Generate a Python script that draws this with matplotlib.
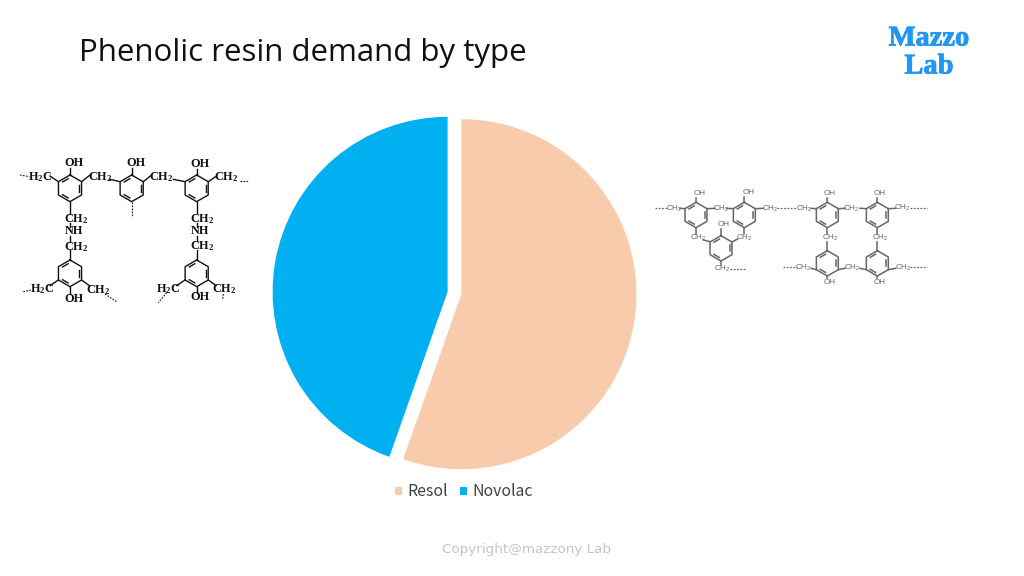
import numpy as np
import matplotlib
matplotlib.use("Agg")
import matplotlib.pyplot as plt
import matplotlib.patheffects as pe

plt.rcParams['mathtext.default'] = 'regular'

# --- data ---
types = ['Resol', 'Novolac']
demand = [55.4, 44.6]
colors = ['#F8CBAD', '#00B0F0']

title = 'Phenolic resin demand by type'
logo = ['Mazzo', 'Lab']
footer = 'Copyright@mazzony Lab'

# --- figure ---
fig = plt.figure(figsize=(10.24, 5.76), dpi=100)

# pie axes, 1 data unit = pie radius (175 px)
half = 175 * 1.25
ax = fig.add_axes([(454.5 - half) / 1024, (576 - 293 - half) / 576, 2 * half / 1024, 2 * half / 576])
wedges, _ = ax.pie(demand, colors=colors, explode=[0.04, 0.04], startangle=90,
                   counterclock=False, radius=1, labels=None)
ax.set_xlim(-1.25, 1.25)
ax.set_ylim(-1.25, 1.25)

fig.legend(wedges, types, loc='center', bbox_to_anchor=(464 / 1024, 1 - 492 / 576), ncol=2,
           frameon=False, handlelength=0.45, handleheight=0.45, handletextpad=0.3, columnspacing=0.8,
           prop={'family': 'Noto Sans CJK JP', 'size': 11.4}, labelcolor='#404040')

# overlay in pixel coordinates for the text and the molecule sketches
ov = fig.add_axes([0, 0, 1, 1], facecolor='none')
ov.set_xlim(0, 1024)
ov.set_ylim(576, 0)
ov.axis('off')

ov.text(79, 53, title, fontsize=22.5, family='Open Sans', color='#111111', va='center', ha='left')
stroke = [pe.withStroke(linewidth=0.6, foreground='#2196F3')]
ov.text(929, 39, logo[0], fontsize=20.5, family='Liberation Serif', weight='bold', color='#2196F3',
        ha='center', va='center', path_effects=stroke)
ov.text(929, 67, logo[1], fontsize=20.5, family='Liberation Serif', weight='bold', color='#2196F3',
        ha='center', va='center', path_effects=stroke)
ov.text(526, 550, footer, fontsize=9.7, family='DejaVu Sans', color='#C4C4C4', ha='center', va='center')


def hexagon(x0, y0, cx, cy, r, color, lw, inner):
    ang = np.radians(np.arange(90, 451, 60))
    px = x0 + (cx + r * np.cos(ang)) / 3
    py = y0 + (cy - r * np.sin(ang)) / 3
    ov.plot(px, py, color=color, lw=lw, solid_joinstyle='round')
    # double bonds
    for i in inner:
        a = (px[i] * 0.8 + px[i + 1] * 0.2, py[i] * 0.8 + py[i + 1] * 0.2)
        b = (px[i] * 0.2 + px[i + 1] * 0.8, py[i] * 0.2 + py[i + 1] * 0.8)
        mx, my = x0 + cx / 3, y0 + cy / 3
        ov.plot([a[0] + (mx - a[0]) * 0.2, b[0] + (mx - b[0]) * 0.2],
                [a[1] + (my - a[1]) * 0.2, b[1] + (my - b[1]) * 0.2], color=color, lw=lw)


def molecule(x0, y0, rings, r, bonds, dashes, labels, color, lw, fontsize, **font):
    for cx, cy in rings:
        hexagon(x0, y0, cx, cy, r, color, lw, [0, 2, 4])
    for x1, y1, x2, y2 in bonds:
        ov.plot([x0 + x1 / 3, x0 + x2 / 3], [y0 + y1 / 3, y0 + y2 / 3], color=color, lw=lw)
    for x1, y1, x2, y2 in dashes:
        ov.plot([x0 + x1 / 3, x0 + x2 / 3], [y0 + y1 / 3, y0 + y2 / 3], color=color, lw=lw * 0.8, ls=(0, (1.5, 1.2)))
    for x, y, s in labels:
        ov.text(x0 + x / 3, y0 + y / 3, s, ha='center', va='center', fontsize=fontsize, color=color, **font)


molecule(10, 140,
         [(180, 145), (365, 145), (560, 145), (180, 400), (560, 400)], 40,
         [(180, 105, 180, 85), (145, 125, 120, 108), (215, 125, 240, 105),
          (180, 185, 180, 222), (180, 250, 180, 260), (180, 288, 180, 305), (180, 330, 180, 360),
          (180, 440, 180, 462), (145, 420, 120, 437), (215, 420, 238, 437),
          (365, 105, 365, 85), (300, 118, 330, 125), (400, 125, 425, 105),
          (490, 118, 525, 125), (560, 105, 560, 88), (595, 125, 620, 108),
          (560, 185, 560, 220), (560, 250, 560, 260), (560, 288, 560, 303), (560, 330, 560, 360),
          (560, 440, 560, 460), (525, 420, 500, 437), (595, 420, 618, 437)],
         [(30, 105, 58, 110), (40, 455, 65, 450), (365, 185, 365, 228), (285, 462, 320, 485),
          (690, 122, 715, 122), (470, 458, 445, 488), (640, 462, 638, 478)],
         [(192, 68, 'OH'), (378, 70, 'OH'), (570, 72, 'OH'),
          (90, 110, 'H$_2$C'), (270, 112, 'CH$_2$'), (455, 112, 'CH$_2$'), (648, 112, 'CH$_2$'),
          (200, 238, 'CH$_2$'), (192, 273, 'NH'), (200, 320, 'CH$_2$'),
          (95, 447, 'H$_2$C'), (265, 450, 'CH$_2$'), (192, 478, 'OH'),
          (578, 236, 'CH$_2$'), (570, 272, 'NH'), (578, 318, 'CH$_2$'),
          (475, 447, 'H$_2$C'), (642, 447, 'CH$_2$'), (570, 472, 'OH')],
         '#111111', 1.0, 8.8, family='Liberation Serif', weight='bold')

molecule(645, 175,
         [(153, 120), (298, 120), (228, 220), (547, 120), (697, 120), (547, 265), (697, 265)], 38,
         [(153, 82, 153, 68), (298, 82, 298, 66), (228, 182, 228, 162), (547, 82, 547, 68), (697, 82, 697, 68),
          (120, 101, 105, 100), (186, 101, 210, 100), (245, 100, 265, 101), (331, 101, 355, 100),
          (514, 101, 498, 100), (580, 101, 600, 100), (645, 100, 664, 101), (730, 101, 752, 100),
          (153, 158, 153, 178), (298, 158, 298, 178), (228, 258, 228, 270),
          (547, 158, 547, 178), (697, 158, 697, 178), (547, 202, 547, 227), (697, 202, 697, 227),
          (547, 303, 547, 308), (697, 303, 697, 308), (514, 284, 498, 280), (580, 284, 600, 280),
          (645, 280, 664, 284), (730, 284, 752, 280), (175, 195, 195, 200), (261, 201, 278, 192)],
         [(30, 100, 65, 100), (395, 100, 455, 100), (795, 100, 845, 100),
          (415, 275, 455, 275), (795, 275, 845, 275), (255, 282, 300, 282)],
         [(163, 55, 'OH'), (310, 52, 'OH'), (235, 147, 'OH'), (555, 55, 'OH'), (705, 55, 'OH'),
          (555, 322, 'OH'), (705, 322, 'OH'),
          (87, 102, 'CH$_2$'), (228, 102, 'CH$_2$'), (375, 102, 'CH$_2$'), (478, 102, 'CH$_2$'),
          (620, 102, 'CH$_2$'), (772, 100, 'CH$_2$'), (160, 190, 'CH$_2$'), (298, 190, 'CH$_2$'),
          (232, 282, 'CH$_2$'), (555, 190, 'CH$_2$'), (705, 190, 'CH$_2$'),
          (475, 278, 'CH$_2$'), (622, 278, 'CH$_2$'), (775, 278, 'CH$_2$')],
         '#666666', 1.1, 5.8, family='Liberation Sans')

fig.savefig('out.png', dpi=100)
